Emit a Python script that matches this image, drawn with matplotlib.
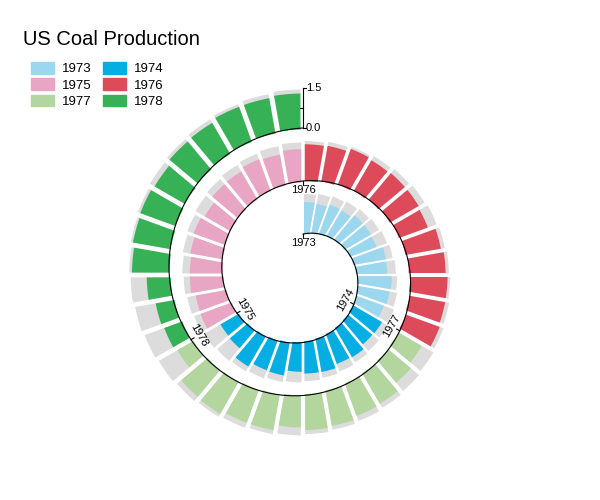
import numpy as np
import matplotlib.pyplot as plt
from matplotlib.patches import Patch, Polygon

plt.rcParams['font.family'] = ['Liberation Sans', 'DejaVu Sans']

# monthly values, Jan..Dec
years = ['1973', '1974', '1975', '1976', '1977', '1978']
coal_1973 = [1.20, 1.12, 1.18, 1.12, 1.20, 1.15, 1.08, 1.25, 1.18, 1.30, 1.22, 1.10]
coal_1974 = [1.25, 1.18, 1.28, 1.20, 1.28, 1.22, 1.10, 1.25, 1.18, 1.30, 0.88, 0.80]
coal_1975 = [1.25, 1.18, 1.27, 1.22, 1.22, 1.25, 1.10, 1.25, 1.22, 1.28, 1.18, 1.25]
coal_1976 = [1.38, 1.35, 1.42, 1.32, 1.30, 1.25, 1.15, 1.35, 1.38, 1.40, 1.35, 1.35]
coal_1977 = [1.00, 1.10, 1.32, 1.30, 1.35, 1.35, 1.20, 1.35, 1.30, 1.38, 1.30, 0.70]
coal_1978 = [0.72, 0.72, 0.90, 1.40, 1.42, 1.40, 1.30, 1.38, 1.35, 1.40, 1.35, 1.35]
production = [coal_1973, coal_1974, coal_1975, coal_1976, coal_1977, coal_1978]
colors = ['#9cd7f0', '#04aee2', '#e8a6c4', '#dd4b5a', '#b3d59e', '#37b156']
vmax = 1.5

fig = plt.figure(figsize=(6, 5), dpi=100)
ax = fig.add_axes([0, 0, 1, 1])
# one data unit = one pixel, spiral centre at the origin
ax.set_xlim(-303, 297)
ax.set_ylim(-225, 275)
ax.set_axis_off()

r0 = 41        # radius where the spiral starts
turn = 53      # radius gained per revolution (36 months)
scale = 40 / vmax
step = 2 * np.pi / 36
pad = 0.022


def arc_bar(a0, a1, rin, rout, gap, color):
    # annular sector with a constant-width gap on both sides (clockwise from north)
    ai = [a0 + np.arcsin(gap / 2 / rin), a1 - np.arcsin(gap / 2 / rin)]
    ao = [a0 + np.arcsin(gap / 2 / rout), a1 - np.arcsin(gap / 2 / rout)]
    outer = np.linspace(ao[0], ao[1], 10)
    inner = np.linspace(ai[1], ai[0], 10)
    xs = np.concatenate([rout * np.sin(outer), rin * np.sin(inner)])
    ys = np.concatenate([rout * np.cos(outer), rin * np.cos(inner)])
    return Polygon(np.column_stack([xs, ys]), closed=True, facecolor=color, linewidth=0)


for k, (vals, c) in enumerate(zip(production, colors)):
    for m, v in enumerate(vals):
        i = 12 * k + m
        base = r0 + turn * i / 36
        top = base + vmax * scale
        gap = pad * np.hypot(base, top)
        ax.add_patch(arc_bar(i * step, (i + 1) * step, base, top, gap, '#dcdcdc'))
        ax.add_patch(arc_bar(i * step, (i + 1) * step, base, base + v * scale, gap, c))

# spiral baseline
t = np.linspace(0, 4 * np.pi, 800)
rs = r0 + turn * t / (2 * np.pi)
ax.plot(rs * np.sin(t), rs * np.cos(t), color='black', lw=0.8, zorder=3)

# year ticks and labels
for k, yr in enumerate(years):
    th = 12 * k * step
    rb = r0 + turn * k / 3
    ax.plot([rb * np.sin(th), (rb - 3.5) * np.sin(th)],
            [rb * np.cos(th), (rb - 3.5) * np.cos(th)], color='black', lw=0.8, zorder=3)
    rot = -(k * 120) % 360
    if rot > 180:
        rot -= 360
    if abs(rot) > 90:
        rot = rot + 180 if rot < 0 else rot - 180
    rl = rb - 9
    ax.text(rl * np.sin(th), rl * np.cos(th), yr, rotation=rot, rotation_mode='anchor',
            ha='center', va='center', fontsize=8)

# value scale at the top
rb = r0 + 2 * turn
rt = rb + vmax * scale
ax.plot([-0.5, -0.5], [rb, rt], color='black', lw=0.8)
ax.plot([-0.5, 2.5], [rt, rt], color='black', lw=0.8)
ax.plot([-0.5, 2.5], [rb, rb], color='black', lw=0.8)
ax.plot([-3.5, -0.5], [(rb + rt) / 2, (rb + rt) / 2], color='black', lw=0.8)
ax.text(3, rt, '1.5', ha='left', va='center', fontsize=8)
ax.text(3, rb, '0.0', ha='left', va='center', fontsize=8)

fig.text(23 / 600, 1 - 30 / 500, 'US Coal Production', fontsize=14.5, ha='left', va='top')

order = [0, 2, 4, 1, 3, 5]
handles = [Patch(color=colors[i]) for i in order]
labels = [years[i] for i in order]
fig.legend(handles, labels, ncol=2, loc='upper left', bbox_to_anchor=(31 / 600, 1 - 62 / 500),
           frameon=False, fontsize=9.5, handlelength=1.75, handleheight=1.0,
           handletextpad=0.6, columnspacing=0.85, labelspacing=0.22, borderpad=0, borderaxespad=0)

fig.savefig('out.png', dpi=100)
